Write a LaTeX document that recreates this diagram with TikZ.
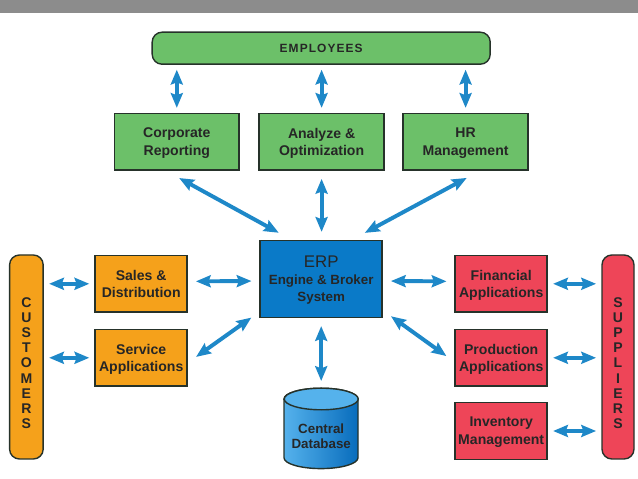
\documentclass[tikz,border=0pt]{standalone}
\usepackage{fontspec}
\setmainfont{Liberation Sans}
\newfontfamily\wideface[LetterSpace=9]{Liberation Sans}
\usetikzlibrary{arrows.meta}
\definecolor{erpgreen}{RGB}{108,192,105}
\definecolor{erporange}{RGB}{245,161,27}
\definecolor{erpred}{RGB}{238,69,88}
\definecolor{erpblue}{RGB}{10,122,200}
\definecolor{dblight}{RGB}{85,178,236}
\definecolor{dbdark}{RGB}{8,108,188}
\definecolor{arrowblue}{RGB}{30,136,200}
\definecolor{edgedark}{RGB}{38,50,42}
\tikzset{
	box/.style={draw=edgedark,line width=1pt,minimum width=#1,minimum height=1.42cm,inner sep=0pt,align=center,text depth=0pt,font=\bfseries\fontsize{10}{12.6}\selectfont,text=black!85},
	box/.default=2.3cm,
	bar/.style={draw=edgedark,line width=1pt,rounded corners=7pt,inner sep=0pt},
	stack/.style={align=center,font=\bfseries\fontsize{10}{10.8}\selectfont,text=black!85},
	biarrow/.style={draw=arrowblue,line width=2.8pt,{Stealth[length=10.5pt,width=8.5pt,inset=1.5pt,fill=arrowblue]}-{Stealth[length=10.5pt,width=8.5pt,inset=1.5pt,fill=arrowblue]},shorten <=#1,shorten >=#1},
	biarrow/.default=.2cm
}
\begin{document}
\begin{tikzpicture}
	\useasboundingbox (0,0) rectangle (15.95,11.975);

	% top strip
	\fill[black!45] (0,11.65) rectangle (15.95,11.975);

	% employees
	\node[bar,fill=erpgreen,minimum width=8.45cm,minimum height=.8cm,font=\wideface\bfseries\fontsize{8.5}{10}\selectfont,text=black!85] (employees) at (8.03,10.77) {EMPLOYEES};

	% green row
	\node[box=3.12cm,fill=erpgreen] (corporate) at (4.42,8.43) {Corporate\\Reporting};
	\node[box=3.12cm,fill=erpgreen] (analyze) at (8.04,8.43) {Analyze \&\\Optimization};
	\node[box=3.12cm,fill=erpgreen] (hr) at (11.64,8.43) {HR\\Management};

	% erp
	\node[box=3.05cm,minimum height=1.92cm,fill=erpblue,font=\bfseries\fontsize{9.5}{12}\selectfont] (erp) at (8.03,5) {{\mdseries\fontsize{12}{13}\selectfont ERP}\\Engine \& Broker\\System};

	% orange row
	\node[bar,fill=erporange,minimum width=.84cm,minimum height=5.1cm] (customers) at (.66,3.05) {};
	\node[stack] at (.66,2.9) {C\\U\\S\\T\\O\\M\\E\\R\\S};
	\node[box,fill=erporange] (sales) at (3.53,4.88) {Sales \&\\Distribution};
	\node[box,fill=erporange] (service) at (3.53,3.03) {Service\\Applications};

	% red row
	\node[box,fill=erpred] (financial) at (12.53,4.88) {Financial\\Applications};
	\node[box,fill=erpred] (production) at (12.53,3.03) {Production\\Applications};
	\node[box,fill=erpred] (inventory) at (12.53,1.2) {Inventory\\Management};
	\node[bar,fill=erpred,minimum width=.8cm,minimum height=5.1cm] (suppliers) at (15.45,3.05) {};
	\node[stack] at (15.45,2.9) {S\\U\\P\\P\\L\\I\\E\\R\\S};

	% database
	\shade[draw=edgedark,line width=1pt,left color=dblight,right color=dbdark] (7.1,2.0) -- (7.1,.53) arc (180:360:.925 and .27) -- (8.95,2.0) arc (0:180:.925 and .27) -- cycle;
	\draw[draw=edgedark,line width=1pt,fill=dblight] (8.03,2.0) ellipse (.925 and .27);
	\node[align=center,font=\bfseries\fontsize{9.5}{10.8}\selectfont,text=black!85,minimum width=1.85cm,minimum height=2.33cm,inner sep=0pt,anchor=north] (database) at (8.03,2.25) {Central\\Database};

	% top arrows
	\draw[biarrow=.12cm] (employees.south -| corporate.north) -- (corporate.north);
	\draw[biarrow=.12cm] (employees.south -| analyze.north) -- (analyze.north);
	\draw[biarrow=.12cm] (employees.south -| hr.north) -- (hr.north);
	\draw[biarrow=.37cm] (corporate.250) -- (erp.127);
	\draw[biarrow] (analyze.south) -- (analyze.south |- erp.north);
	\draw[biarrow=.37cm] (hr.-64) -- (erp.52);

	% side arrows
	\draw[biarrow=.13cm] (customers.east |- sales.west) -- (sales.west);
	\draw[biarrow=.13cm] (customers.east |- service.west) -- (service.west);
	\draw[biarrow] ([yshift=.06cm]sales.east) -- ([yshift=-.05cm]erp.west);
	\draw[biarrow=.25cm] (service.-6) -- (erp.208);
	\draw[biarrow] ([yshift=-.05cm]erp.east) -- ([yshift=.06cm]financial.west);
	\draw[biarrow=.25cm] (erp.-27.5) -- (production.185.7);
	\draw[biarrow=.13cm] (financial.east) -- (financial.east -| suppliers.west);
	\draw[biarrow=.13cm] (production.east) -- (production.east -| suppliers.west);
	\draw[biarrow=.13cm] (inventory.east) -- (inventory.east -| suppliers.west);
	\draw[biarrow] (erp.south) -- (database.north);
\end{tikzpicture}
\end{document}
